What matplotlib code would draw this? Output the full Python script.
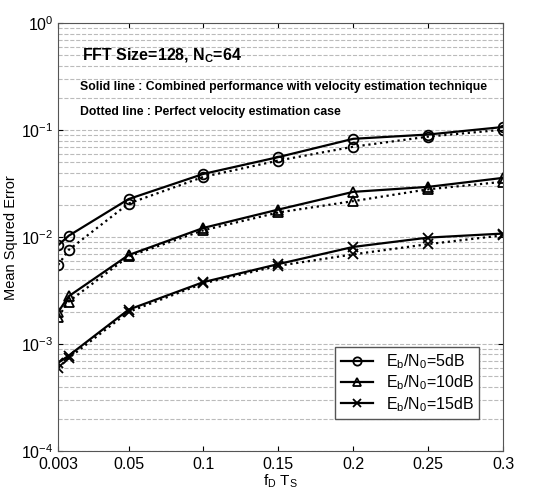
import matplotlib
matplotlib.use("Agg")
import matplotlib.pyplot as plt
import numpy as np

plt.rcParams['font.family'] = ['Liberation Sans', 'DejaVu Sans']
plt.rcParams['mathtext.fontset'] = 'custom'
plt.rcParams['mathtext.rm'] = 'Liberation Sans'
plt.rcParams['mathtext.it'] = 'Liberation Sans'
plt.rcParams['mathtext.bf'] = 'Liberation Sans:bold'

# Data
x = [0.003, 0.01, 0.05, 0.1, 0.15, 0.2, 0.25, 0.3]
snr5_solid = [0.0084, 0.0103, 0.0227, 0.039, 0.056, 0.083, 0.091, 0.107]
snr5_dotted = [0.0055, 0.0076, 0.0206, 0.0366, 0.052, 0.070, 0.087, 0.101]
snr10_solid = [0.0020, 0.0028, 0.0068, 0.0122, 0.0181, 0.0265, 0.0295, 0.0358]
snr10_dotted = [0.0018, 0.0025, 0.0066, 0.0116, 0.0170, 0.0217, 0.0280, 0.0329]
snr15_solid = [0.00067, 0.00078, 0.0021, 0.0038, 0.0056, 0.0081, 0.0099, 0.0108]
snr15_dotted = [0.00060, 0.00074, 0.0020, 0.0037, 0.0054, 0.0069, 0.0086, 0.0104]
xticks = [0.003, 0.05, 0.1, 0.15, 0.2, 0.25, 0.3]
xticklabels = ['0.003', '0.05', '0.1', '0.15', '0.2', '0.25', '0.3']

fig = plt.figure(figsize=(5.34, 4.93), dpi=100)
ax = fig.add_axes([0.109, 0.085, 0.833, 0.868])

mk = dict(color='black', markerfacecolor='none', markeredgecolor='black',
          markersize=7, markeredgewidth=1.3)
ax.plot(x, snr5_solid, '-', marker='o', lw=1.6, label='E$_b$/N$_0$=5dB', **mk)
ax.plot(x, snr10_solid, '-', marker='^', lw=1.6, label='E$_b$/N$_0$=10dB', **mk)
ax.plot(x, snr15_solid, '-', marker='x', lw=1.6, label='E$_b$/N$_0$=15dB', **mk)
ax.plot(x, snr5_dotted, ':', marker='o', lw=1.6, **mk)
ax.plot(x, snr10_dotted, ':', marker='^', lw=1.6, **mk)
ax.plot(x, snr15_dotted, ':', marker='x', lw=1.6, **mk)

ax.set_yscale('log')
ax.set_ylim(1e-4, 1e0)
ax.set_xlim(0.003, 0.3)
ax.set_xticks(xticks)
ax.set_xticklabels(xticklabels)
ax.grid(True, axis='y', which='both', linestyle='--', color='#bbbbbb', lw=0.8)
ax.tick_params(axis='both', which='both', direction='in', labelsize=11.5, top=True, right=True)
ax.tick_params(axis='x', pad=4)
ax.tick_params(axis='y', which='minor', length=0)
for s in ax.spines.values():
    s.set_color('#555555')

ax.set_xlabel('f$_D$ T$_S$', fontsize=11, labelpad=1)
ax.set_ylabel('Mean Squred Error', fontsize=10.5, labelpad=2)

ax.text(0.019, 0.50, 'FFT Size=128, N$_\\mathbf{C}$=64', fontsize=11.5, fontweight='bold', va='center')
ax.text(0.0177, 0.252, 'Solid line : Combined performance with velocity estimation technique',
        fontsize=8.8, fontweight='bold', va='center')
ax.text(0.0177, 0.147, 'Dotted line : Perfect velocity estimation case',
        fontsize=8.8, fontweight='bold', va='center')

leg = ax.legend(loc='lower right', bbox_to_anchor=(0.965, 0.056), fontsize=11.5,
                fancybox=False, framealpha=1, edgecolor='#555555', markerscale=0.85,
                handlelength=2.0, borderpad=0.35, labelspacing=0.15)

fig.savefig('out.png', dpi=100)
